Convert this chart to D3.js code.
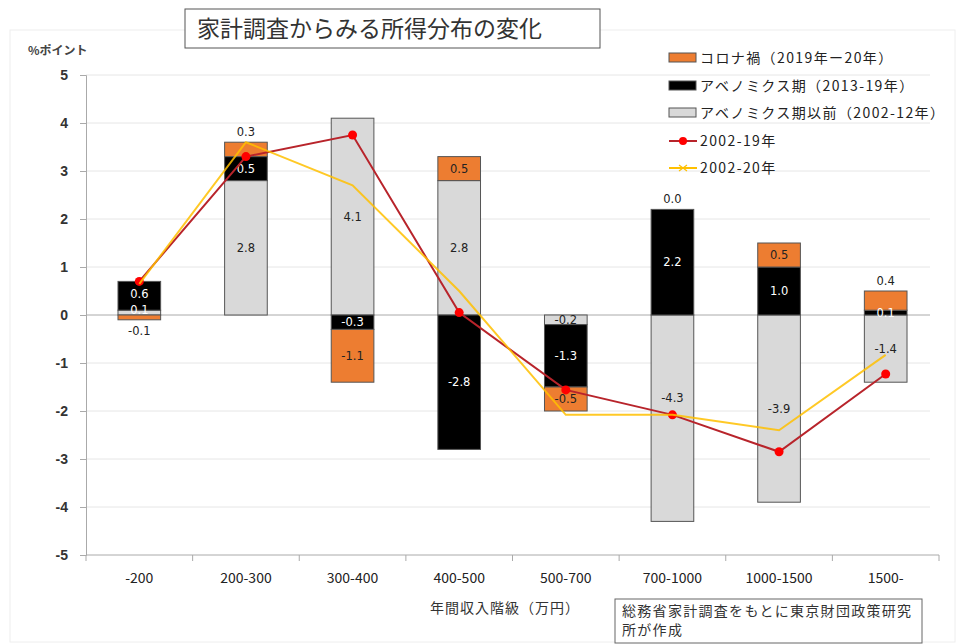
<!DOCTYPE html>
<html>
<head>
<meta charset="utf-8">
<script src="https://cdn.jsdelivr.net/npm/d3@7"></script>
<style>
  body { margin: 0; background: #fff; }
  svg { font-family: "Noto Sans CJK JP", "Noto Sans", sans-serif; }
</style>
</head>
<body>
<div id="chart"></div>
<script>
// income brackets (万円)
var categories = ['-200', '200-300', '300-400', '400-500', '500-700', '700-1000', '1000-1500', '1500-'];
// stacked components (%pt)
var preAbe = [0.1, 2.8, 4.1, 2.8, -0.2, -4.3, -3.9, -1.4];   // アベノミクス期以前 2002-12
var abe = [0.6, 0.5, -0.3, -2.8, -1.3, 2.2, 1.0, 0.1];       // アベノミクス期 2013-19
var corona = [-0.1, 0.3, -1.1, 0.5, -0.5, 0.0, 0.5, 0.4];   // コロナ禍 2019-20
// cumulative lines
var line0219 = [0.7, 3.3, 3.75, 0.05, -1.56, -2.08, -2.85, -1.23];
var line0220 = [0.65, 3.6, 2.7, 0.5, -2.08, -2.08, -2.4, -0.83];
var yTicks = [5, 4, 3, 2, 1, 0, -1, -2, -3, -4, -5];

var width = 965, height = 644;
var svg = d3.select('#chart').append('svg')
  .attr('width', width)
  .attr('height', height);

// faint outer frame
svg.append('rect')
  .attr('x', 10).attr('y', 30)
  .attr('width', 945).attr('height', 612)
  .attr('fill', 'none').attr('stroke', '#eeeeee');

var x = d3.scaleBand().domain(categories).range([86, 939]).paddingInner(0.6).paddingOuter(0.3);
var y = d3.scaleLinear().domain([-5, 5]).range([555, 75]);

// gridlines
svg.append('g').selectAll('line')
  .data(yTicks.filter(function (d) { return d !== -5 && d !== 0; }))
  .enter().append('line')
  .attr('x1', 86).attr('x2', 930)
  .attr('y1', function (d) { return y(d); })
  .attr('y2', function (d) { return y(d); })
  .attr('stroke', '#e6e6e6');

// y axis
var yAxis = svg.append('g')
  .attr('transform', 'translate(86,0)')
  .call(d3.axisLeft(y).tickValues(yTicks).tickSize(6).tickPadding(12).tickFormat(function (d) { return String(d); }));
yAxis.select('.domain').attr('stroke', '#aaaaaa');
yAxis.selectAll('.tick line').attr('stroke', '#aaaaaa');
yAxis.selectAll('text')
  .attr('font-size', 14).attr('font-weight', 'bold').attr('fill', '#333')
  .style('font-family', '"Liberation Sans", Arial, sans-serif');

svg.append('text')
  .attr('x', 28).attr('y', 55)
  .attr('font-size', 12).attr('font-weight', 'bold').attr('fill', '#444')
  .text('%ポイント');

// bottom axis
svg.append('line')
  .attr('x1', 86).attr('x2', 939)
  .attr('y1', 555).attr('y2', 555)
  .attr('stroke', '#aaaaaa');
var bounds = categories.map(function (c) { return x(c) - (x.step() - x.bandwidth()) / 2; });
bounds.push(bounds[bounds.length - 1] + x.step());
svg.append('g').selectAll('line')
  .data(bounds)
  .enter().append('line')
  .attr('x1', function (d) { return d; })
  .attr('x2', function (d) { return d; })
  .attr('y1', 555).attr('y2', 561)
  .attr('stroke', '#aaaaaa');

svg.append('g').selectAll('text')
  .data(categories)
  .enter().append('text')
  .attr('x', function (d) { return x(d) + x.bandwidth() / 2; })
  .attr('y', 583)
  .attr('text-anchor', 'middle')
  .attr('font-size', 14).attr('fill', '#222')
  .text(function (d) { return d; });

// stacked bars
var rows = categories.map(function (c, i) {
  return { cat: c, gray: preAbe[i], black: abe[i], orange: corona[i] };
});
var keys = ['gray', 'black', 'orange'];
var fills = { gray: '#d9d9d9', black: '#000000', orange: '#ed7d31' };
var series = d3.stack().keys(keys).offset(d3.stackOffsetDiverging)(rows);

// zero line under bars
svg.append('line')
  .attr('x1', 86).attr('x2', 930)
  .attr('y1', y(0)).attr('y2', y(0))
  .attr('stroke', '#aaaaaa');

var layers = svg.append('g').selectAll('g')
  .data(series)
  .enter().append('g')
  .attr('fill', function (d) { return fills[d.key]; });

layers.selectAll('rect')
  .data(function (d) { return d; })
  .enter().append('rect')
  .attr('x', function (d) { return x(d.data.cat); })
  .attr('width', x.bandwidth())
  .attr('y', function (d) { return y(d[1]); })
  .attr('height', function (d) { return Math.abs(y(d[0]) - y(d[1])); })
  .attr('stroke', '#555')
  .attr('stroke-width', 1);

// data labels
var fmt = function (v) { return v.toFixed(1); };
var labels = svg.append('g')
  .attr('font-size', 11.5)
  .attr('text-anchor', 'middle')
  .style('font-family', '"DejaVu Sans", "Liberation Sans", sans-serif');
series.forEach(function (s) {
  s.forEach(function (d, i) {
    var v = d.data[s.key];
    var lx = x(d.data.cat) + x.bandwidth() / 2;
    var ly, col = s.key === 'black' ? '#fff' : '#222';
    if (s.key === 'orange' && Math.abs(v) < 0.45) {
      var posTop = d3.sum(keys, function (k) { return Math.max(0, d.data[k]); });
      var negBot = d3.sum(keys, function (k) { return Math.min(0, d.data[k]); });
      ly = v >= 0 ? y(posTop) - 6 : y(negBot) + 15;
      col = '#222';
    } else {
      ly = y((d[0] + d[1]) / 2) + 4;
    }
    if (s.key === 'black' && d.data.gray > 0 && d.data.gray < 0.15) ly -= 2;
    if (s.key === 'gray' && Math.abs(v) < 0.15) { col = '#fff'; ly -= 3; }
    if (s.key === 'gray' && v < -4) ly -= 20; // keep clear of the lines
    labels.append('text')
      .attr('x', lx).attr('y', ly)
      .attr('fill', col)
      .text(fmt(v));
  });
});

// lines
var cx = function (d, i) { return x(categories[i]) + x.bandwidth() / 2; };
var line = d3.line().x(cx).y(function (d) { return y(d); });

svg.append('path')
  .datum(line0219)
  .attr('d', line)
  .attr('fill', 'none')
  .attr('stroke', '#b8242b')
  .attr('stroke-width', 2);
svg.append('g').selectAll('circle')
  .data(line0219)
  .enter().append('circle')
  .attr('cx', cx)
  .attr('cy', function (d) { return y(d); })
  .attr('r', 4.5)
  .attr('fill', '#ff0000');

svg.append('path')
  .datum(line0220)
  .attr('d', line)
  .attr('fill', 'none')
  .attr('stroke', '#ffc000')
  .attr('stroke-width', 2)
  .attr('stroke-opacity', 0.85);

// title
svg.append('rect')
  .attr('x', 185).attr('y', 9)
  .attr('width', 415).attr('height', 39)
  .attr('fill', '#fff').attr('stroke', '#555');
svg.append('text')
  .attr('x', 197).attr('y', 37)
  .attr('font-size', 23).attr('fill', '#333')
  .text('家計調査からみる所得分布の変化');

// legend
var legendItems = [
  { label: 'コロナ禍（2019年ー20年）', type: 'rect', color: fills.orange, y: 58 },
  { label: 'アベノミクス期（2013-19年）', type: 'rect', color: fills.black, y: 86 },
  { label: 'アベノミクス期以前（2002-12年）', type: 'rect', color: fills.gray, y: 113 },
  { label: '2002-19年', type: 'line', color: '#b8242b', y: 141 },
  { label: '2002-20年', type: 'line', color: '#ffc000', y: 168 }
];
var legend = svg.append('g').selectAll('g')
  .data(legendItems)
  .enter().append('g')
  .attr('transform', function (d) { return 'translate(669,' + d.y + ')'; });
legend.filter(function (d) { return d.type === 'rect'; })
  .append('rect')
  .attr('x', 0).attr('y', -5).attr('width', 27).attr('height', 9)
  .attr('fill', function (d) { return d.color; })
  .attr('stroke', '#555');
legend.filter(function (d) { return d.type === 'line'; })
  .append('line')
  .attr('x1', 0).attr('x2', 28).attr('y1', 0).attr('y2', 0)
  .attr('stroke', function (d) { return d.color; })
  .attr('stroke-width', 2);
legend.filter(function (d, i) { return i === 3; })
  .append('circle')
  .attr('cx', 14).attr('cy', 0).attr('r', 4)
  .attr('fill', '#ff0000');
legend.filter(function (d, i) { return i === 4; })
  .append('path')
  .attr('d', 'M10,-3L18,3M10,3L18,-3')
  .attr('stroke', '#ffc000').attr('stroke-width', 1.2);
legend.append('text')
  .attr('x', 31).attr('y', 5)
  .attr('font-size', 14).attr('fill', '#222')
  .attr('letter-spacing', 1.4)
  .text(function (d) { return d.label; });

// x axis title
svg.append('text')
  .attr('x', 505).attr('y', 613)
  .attr('text-anchor', 'middle')
  .attr('font-size', 14).attr('fill', '#333')
  .attr('letter-spacing', 1)
  .text('年間収入階級（万円）');

// source note
svg.append('rect')
  .attr('x', 615).attr('y', 599)
  .attr('width', 307).attr('height', 44)
  .attr('fill', '#fff').attr('stroke', '#666');
svg.append('text')
  .attr('x', 622).attr('y', 616)
  .attr('font-size', 14).attr('fill', '#333')
  .attr('letter-spacing', 1.3)
  .text('総務省家計調査をもとに東京財団政策研究');
svg.append('text')
  .attr('x', 622).attr('y', 635)
  .attr('font-size', 14).attr('fill', '#333')
  .attr('letter-spacing', 1.3)
  .text('所が作成');
</script>
</body>
</html>
